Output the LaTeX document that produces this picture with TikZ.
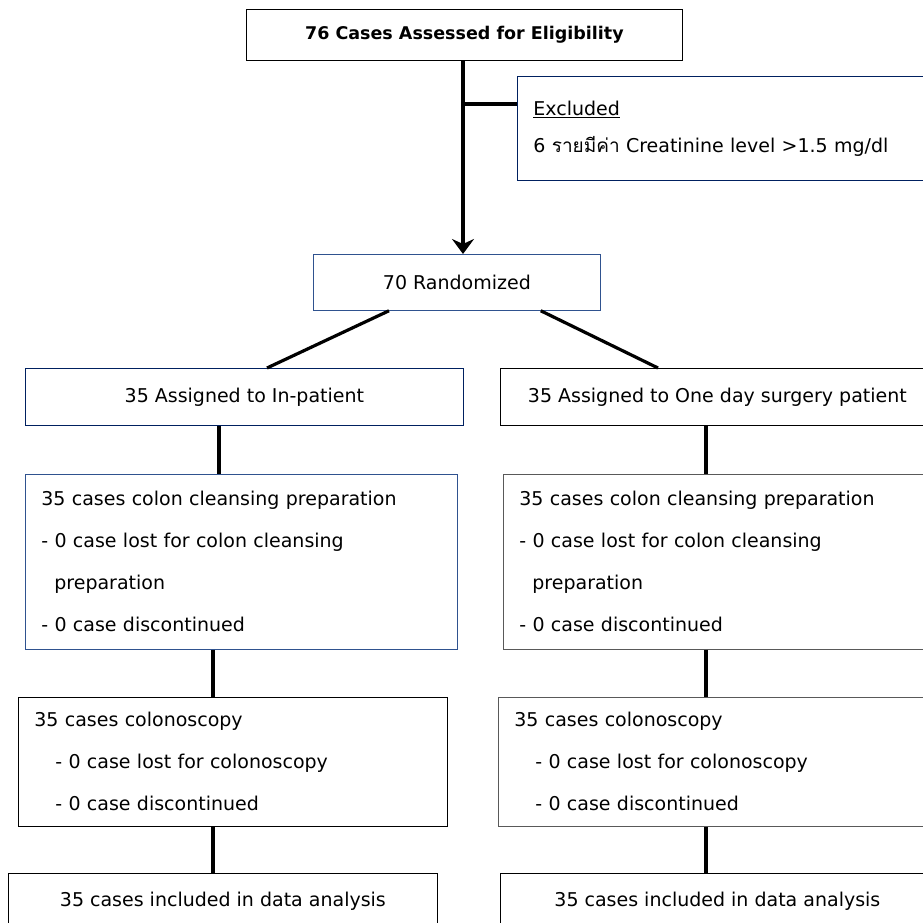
\documentclass[tikz,border=0pt]{standalone}
\usepackage{fontspec}
\setmainfont{DejaVu Sans}
\newfontfamily\thaifont[Script=Thai]{Loma}
\usetikzlibrary{arrows.meta}

\definecolor{navyline}{RGB}{0,32,96}
\definecolor{steelline}{RGB}{47,82,143}
\definecolor{greyline}{RGB}{89,89,89}

\tikzset{
  box/.style={draw, rectangle, line width=0.75pt, inner xsep=16pt, inner ysep=0pt,
    anchor=north west, font={\fontsize{19}{22}\selectfont}},
  listbox/.style={box, align=left, font={\fontsize{19}{42}\selectfont}},
  link/.style={line width=3.2pt},
}

\begin{document}
\begin{tikzpicture}[x=1pt,y=1pt,yscale=-1,xscale=1]
\clip (0,0) rectangle (923,923);

% boxes
\node[box, minimum width=436pt, minimum height=51pt, font={\fontsize{17.5}{20}\selectfont\bfseries}] (assess) at (246,9) {76 Cases Assessed for Eligibility};
\node[listbox, draw=navyline, text width=388pt, minimum height=104pt, font={\fontsize{19}{37}\selectfont}] (excl) at (517,76)
  {\underline{Excluded}\\6 {\thaifont รายมีค่า} Creatinine level >1.5 mg/dl};
\node[box, draw=steelline, minimum width=287pt, minimum height=56pt] (rand) at (313,254) {70 Randomized};

\node[box, draw=navyline, minimum width=438pt, minimum height=57pt] (inpat) at (25,368) {35 Assigned to In-patient};
\node[box, minimum width=434pt, minimum height=57pt] (daysurg) at (500,368) {35 Assigned to One day surgery patient};

\node[listbox, draw=steelline, text width=400pt, minimum height=175pt] (prepL) at (25,474)
  {35 cases colon cleansing preparation\\- 0 case lost for colon cleansing\\\hspace*{13pt}preparation\\- 0 case discontinued};
\node[listbox, draw=greyline, text width=398pt, minimum height=175pt] (prepR) at (503,474)
  {35 cases colon cleansing preparation\\- 0 case lost for colon cleansing\\\hspace*{13pt}preparation\\- 0 case discontinued};

\node[listbox, text width=397pt, minimum height=129pt] (colL) at (18,697)
  {35 cases colonoscopy\\\hspace*{21pt}- 0 case lost for colonoscopy\\\hspace*{21pt}- 0 case discontinued};
\node[listbox, draw=greyline, text width=398pt, minimum height=129pt] (colR) at (498,697)
  {35 cases colonoscopy\\\hspace*{21pt}- 0 case lost for colonoscopy\\\hspace*{21pt}- 0 case discontinued};

\node[box, minimum width=429pt, minimum height=56pt] (anaL) at (8,873) {35 cases included in data analysis};
\node[box, minimum width=434pt, minimum height=56pt] (anaR) at (500,873) {35 cases included in data analysis};

% connectors
\coordinate (split) at (463,104);
\coordinate (upL) at (219,0);
\coordinate (lowL) at (213,0);
\coordinate (colR-x) at (706,0);

\draw[link, -{Stealth[length=15pt, width=22pt, inset=5pt]}] (assess.south -| split) -- (rand.north -| split);
\draw[link] (split) -- (split -| excl.west);

\draw[link] ([xshift=76pt]rand.south west) -- ([xshift=242pt]inpat.north west);
\draw[link] ([xshift=-60pt]rand.south east) -- ([xshift=158pt]daysurg.north west);

\draw[link] (inpat.south -| upL) -- (prepL.north -| upL);
\draw[link] (daysurg.south -| colR-x) -- (prepR.north -| colR-x);
\draw[link] (prepL.south -| lowL) -- (colL.north -| lowL);
\draw[link] (prepR.south -| colR-x) -- (colR.north -| colR-x);
\draw[link] (colL.south -| lowL) -- (anaL.north -| lowL);
\draw[link] (colR.south -| colR-x) -- (anaR.north -| colR-x);

\end{tikzpicture}
\end{document}
